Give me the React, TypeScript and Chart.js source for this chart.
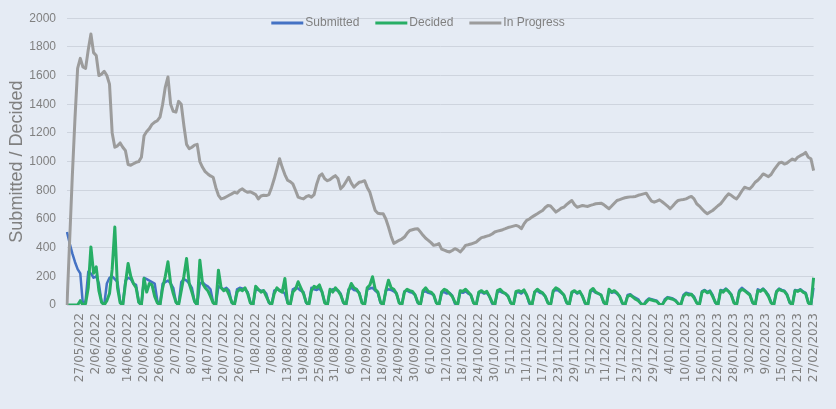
import React, { useEffect, useRef } from 'react';
import { Chart, registerables } from 'chart.js';

Chart.register(...registerables);

// Daily categories: 22/05/2022 .. 27/02/2023 (282 days)
const START_YEAR = 2022;
const START_MONTH = 4; // May (0-based)
const START_DAY = 22;
const DAY_COUNT = 282;

const DATES: string[] = [];
for (let i = 0; i < DAY_COUNT; i++) {
  const d = new Date(START_YEAR, START_MONTH, START_DAY + i);
  DATES.push(`${d.getDate()}/${String(d.getMonth() + 1).padStart(2, '0')}/${d.getFullYear()}`);
}

const TICK_LABELS: string[] = [
  '27/05/2022', '2/06/2022', '8/06/2022', '14/06/2022', '20/06/2022', '26/06/2022',
  '2/07/2022', '8/07/2022', '14/07/2022', '20/07/2022', '26/07/2022', '1/08/2022',
  '7/08/2022', '13/08/2022', '19/08/2022', '25/08/2022', '31/08/2022', '6/09/2022',
  '12/09/2022', '18/09/2022', '24/09/2022', '30/09/2022', '6/10/2022', '12/10/2022',
  '18/10/2022', '24/10/2022', '30/10/2022', '5/11/2022', '11/11/2022', '17/11/2022',
  '23/11/2022', '29/11/2022', '5/12/2022', '11/12/2022', '17/12/2022', '23/12/2022',
  '29/12/2022', '4/01/2023', '10/01/2023', '16/01/2023', '22/01/2023', '28/01/2023',
  '3/02/2023', '9/02/2023', '15/02/2023', '21/02/2023', '27/02/2023',
];

const Y_TICKS: number[] = [0, 200, 400, 600, 800, 1000, 1200, 1400, 1600, 1800, 2000];

const SUBMITTED: number[] = [
  509, 430, 360, 300, 250, 220, 0, 30,
  231, 220, 190, 200, 150, 20, 0,
  150, 190, 200, 180, 160, 25, 0,
  170, 190, 180, 150, 140, 20, 0,
  190, 180, 170, 160, 150, 30, 0,
  150, 160, 170, 150, 120, 20, 0,
  160, 180, 170, 150, 120, 25, 0,
  150, 160, 140, 130, 110, 20, 0,
  130, 120, 110, 120, 100, 15, 0,
  110, 120, 115, 110, 90, 20, 0,
  110, 105, 100, 100, 80, 15, 0,
  100, 110, 105, 95, 80, 20, 0,
  110, 120, 115, 100, 90, 15, 0,
  120, 110, 105, 115, 90, 20, 0,
  100, 110, 105, 100, 80, 15, 0,
  110, 120, 105, 100, 85, 20, 0,
  110, 115, 120, 100, 85, 15, 0,
  100, 110, 105, 95, 80, 20, 0,
  95, 100, 90, 85, 70, 15, 0,
  90, 95, 85, 80, 70, 15, 0,
  85, 90, 80, 85, 65, 10, 0,
  90, 85, 95, 80, 70, 15, 0,
  85, 90, 80, 85, 60, 10, 0,
  90, 95, 85, 80, 65, 15, 0,
  85, 90, 80, 95, 70, 10, 0,
  90, 100, 85, 80, 60, 15, 0,
  95, 105, 100, 85, 70, 15, 0,
  85, 95, 80, 90, 65, 10, 0,
  95, 100, 85, 80, 70, 15, 0,
  100, 85, 90, 80, 60, 10, 0,
  70, 75, 60, 50, 40, 10, 0,
  30, 45, 40, 35, 30, 5, 0,
  40, 55, 50, 45, 35, 10, 0,
  70, 85, 80, 75, 60, 15, 0,
  95, 105, 90, 100, 70, 15, 0,
  105, 100, 115, 95, 75, 20, 0,
  100, 120, 105, 90, 75, 15, 0,
  110, 100, 115, 95, 70, 20, 0,
  95, 115, 105, 100, 75, 15, 0,
  105, 100, 110, 95, 85, 20, 0,
  120,
];

const DECIDED: number[] = [
  0,
  0, 0, 0, 0, 30, 0, 10,
  120, 405, 222, 266, 100, 20, 0,
  30, 80, 250, 544, 120, 15, 0,
  150, 289, 200, 150, 120, 20, 0,
  185, 90, 150, 140, 60, 15, 0,
  120, 200, 301, 150, 80, 20, 0,
  100, 200, 324, 150, 90, 25, 0,
  312, 150, 120, 100, 60, 15, 0,
  243, 120, 100, 110, 70, 20, 0,
  90, 110, 100, 120, 80, 15, 0,
  130, 110, 90, 100, 60, 20, 0,
  80, 120, 100, 90, 185, 15, 0,
  90, 110, 162, 120, 80, 20, 0,
  100, 130, 120, 140, 90, 15, 0,
  110, 90, 120, 100, 70, 20, 0,
  100, 150, 120, 110, 80, 15, 0,
  120, 140, 197, 110, 90, 20, 0,
  100, 173, 120, 110, 80, 15, 0,
  90, 110, 100, 95, 70, 20, 0,
  100, 120, 95, 90, 70, 15, 0,
  90, 110, 100, 80, 60, 20, 0,
  100, 95, 110, 90, 70, 15, 0,
  90, 100, 85, 95, 60, 20, 0,
  100, 110, 90, 80, 60, 15, 0,
  95, 100, 90, 105, 70, 20, 0,
  90, 110, 95, 85, 60, 15, 0,
  100, 120, 110, 90, 70, 20, 0,
  90, 100, 85, 95, 60, 15, 0,
  100, 115, 90, 80, 70, 20, 0,
  110, 90, 100, 85, 60, 15, 0,
  60, 70, 55, 40, 30, 10, 0,
  20, 40, 35, 30, 25, 5, 0,
  30, 50, 45, 40, 30, 10, 0,
  60, 80, 70, 75, 50, 15, 0,
  90, 100, 85, 95, 60, 20, 0,
  100, 90, 110, 95, 70, 15, 0,
  90, 110, 100, 85, 70, 20, 0,
  100, 95, 110, 90, 60, 15, 0,
  90, 110, 100, 95, 70, 20, 0,
  100, 95, 105, 90, 80, 15, 0,
  190,
];

const IN_PROGRESS: number[] = [
  0, 450, 900, 1300, 1650, 1720, 1660, 1650, 1780, 1890,
  1760, 1740, 1600, 1610, 1630, 1600, 1540, 1200, 1100, 1110,
  1130, 1100, 1076, 980, 975, 985, 995, 1000, 1030, 1180,
  1210, 1230, 1260, 1275, 1285, 1310, 1400, 1520, 1590, 1400,
  1350, 1345, 1420, 1400, 1250, 1120, 1090, 1100, 1115, 1120,
  1000, 960, 930, 914, 900, 891, 820, 765, 740, 745,
  755, 765, 775, 786, 780, 800, 810, 795, 786, 790,
  780, 770, 740, 760, 765, 763, 770, 820, 880, 950,
  1020, 960, 910, 870, 860, 845, 800, 752, 745, 740,
  755, 763, 752, 770, 844, 900, 914, 880, 867, 875,
  890, 902, 880, 810, 830, 860, 891, 850, 821, 840,
  856, 860, 867, 820, 786, 720, 659, 640, 636, 636,
  600, 544, 480, 430, 440, 451, 460, 474, 500, 520,
  525, 530, 532, 510, 486, 465, 451, 435, 416, 420,
  428, 390, 382, 375, 370, 380, 393, 385, 370, 390,
  416, 420, 425, 432, 439, 455, 470, 474, 480, 486,
  495, 509, 515, 520, 525, 532, 540, 545, 550, 555,
  548, 532, 565, 590, 600, 613, 625, 636, 648, 659,
  680, 694, 690, 670, 648, 660, 675, 682, 700, 715,
  729, 700, 682, 688, 694, 690, 687, 695, 700, 706,
  708, 710, 700, 685, 671, 690, 710, 729, 735, 742,
  748, 752, 754, 755, 757, 765, 770, 775, 780, 750,
  725, 717, 725, 733, 720, 705, 690, 671, 690, 712,
  729, 733, 736, 740, 750, 757, 740, 706, 690, 670,
  650, 636, 648, 659, 675, 692, 706, 730, 755, 775,
  765, 750, 740, 765, 795, 821, 815, 810, 830, 856,
  870, 890, 914, 905, 895, 910, 940, 965, 990, 995,
  983, 990, 1005, 1018, 1010, 1030, 1041, 1050, 1064, 1030,
  1020, 937,
];

const BG = '#E5EBF4';
const GRID = '#CED4DE';
const TEXT = '#808080';
const BLUE = '#4472C4';
const GREEN = '#27AE65';
const GRAY = '#9C9C9C';

const TICK_SET = new Set(TICK_LABELS);

const bgPlugin = {
  id: 'bgFill',
  beforeDraw(chart: any) {
    const { ctx, width, height } = chart;
    ctx.save();
    ctx.fillStyle = BG;
    ctx.fillRect(0, 0, width, height);
    ctx.restore();
  },
};

const legendPlugin = {
  id: 'insideLegend',
  afterDraw(chart: any) {
    const ctx = chart.ctx;
    ctx.save();
    ctx.font = '12px "Liberation Sans", Arial, sans-serif';
    ctx.textBaseline = 'middle';
    const items = chart.data.datasets.map((ds: any) => ({ text: ds.label, color: ds.borderColor }));
    const lineW = 32;
    const gap = 2;
    const itemGap = 16;
    const widths = items.map((it: any) => lineW + gap + ctx.measureText(it.text).width);
    const total = widths.reduce((a: number, b: number) => a + b, 0) + itemGap * (items.length - 1);
    let x = chart.width / 2 - total / 2;
    const y = 23;
    items.forEach((it: any, idx: number) => {
      ctx.strokeStyle = it.color;
      ctx.lineWidth = 3;
      ctx.beginPath();
      ctx.moveTo(x, y);
      ctx.lineTo(x + lineW, y);
      ctx.stroke();
      ctx.fillStyle = TEXT;
      ctx.fillText(it.text, x + lineW + gap, y);
      x += widths[idx] + itemGap;
    });
    ctx.restore();
  },
};

export default function App() {
  const canvasRef = useRef<HTMLCanvasElement | null>(null);

  useEffect(() => {
    document.body.style.margin = '0';
    document.body.style.background = BG;
    const canvas = canvasRef.current;
    if (!canvas) return;
    const chart = new Chart(canvas, {
      type: 'line',
      data: {
        labels: DATES,
        datasets: [
          { label: 'Submitted', data: SUBMITTED, borderColor: BLUE, backgroundColor: BLUE, borderWidth: 2.5, order: 3 },
          { label: 'Decided', data: DECIDED, borderColor: GREEN, backgroundColor: GREEN, borderWidth: 3, order: 2 },
          { label: 'In Progress', data: IN_PROGRESS, borderColor: GRAY, backgroundColor: GRAY, borderWidth: 3, order: 1 },
        ],
      },
      plugins: [bgPlugin, legendPlugin],
      options: {
        responsive: false,
        animation: false,
        layout: { padding: { top: 17, left: 0, right: 0, bottom: 0 } },
        elements: { point: { radius: 0 }, line: { tension: 0, borderJoinStyle: 'round' } },
        plugins: { legend: { display: false }, tooltip: { enabled: false } },
        scales: {
          x: {
            type: 'category',
            grid: { display: false, drawTicks: false },
            border: { display: false },
            ticks: {
              autoSkip: false,
              minRotation: 90,
              maxRotation: 90,
              padding: 8,
              color: TEXT,
              font: { family: '"DejaVu Sans", sans-serif', size: 12 },
              callback: (_v: any, index: number) => {
                const l = DATES[index];
                return TICK_SET.has(l) ? l : null;
              },
            },
            afterFit: (scale: any) => {
              scale.height = 104;
            },
          },
          y: {
            min: 0,
            max: 2000,
            afterBuildTicks: (scale: any) => {
              scale.ticks = Y_TICKS.map((v) => ({ value: v }));
            },
            grid: { color: GRID, lineWidth: 1, drawTicks: false },
            border: { display: false },
            ticks: {
              padding: 11,
              color: TEXT,
              font: { family: '"Liberation Sans", Arial, sans-serif', size: 12 },
              callback: (v: any) => String(v),
            },
            title: {
              display: true,
              text: 'Submitted / Decided',
              color: TEXT,
              font: { family: '"Liberation Sans", Arial, sans-serif', size: 18 },
              padding: { top: 6, bottom: 0 },
            },
            afterFit: (scale: any) => {
              scale.width = 67;
            },
          },
        },
      },
    } as any);
    return () => chart.destroy();
  }, []);

  return (
    <div style={{ width: 836, height: 409 }}>
      <canvas ref={canvasRef} width={836} height={409} />
    </div>
  );
}
